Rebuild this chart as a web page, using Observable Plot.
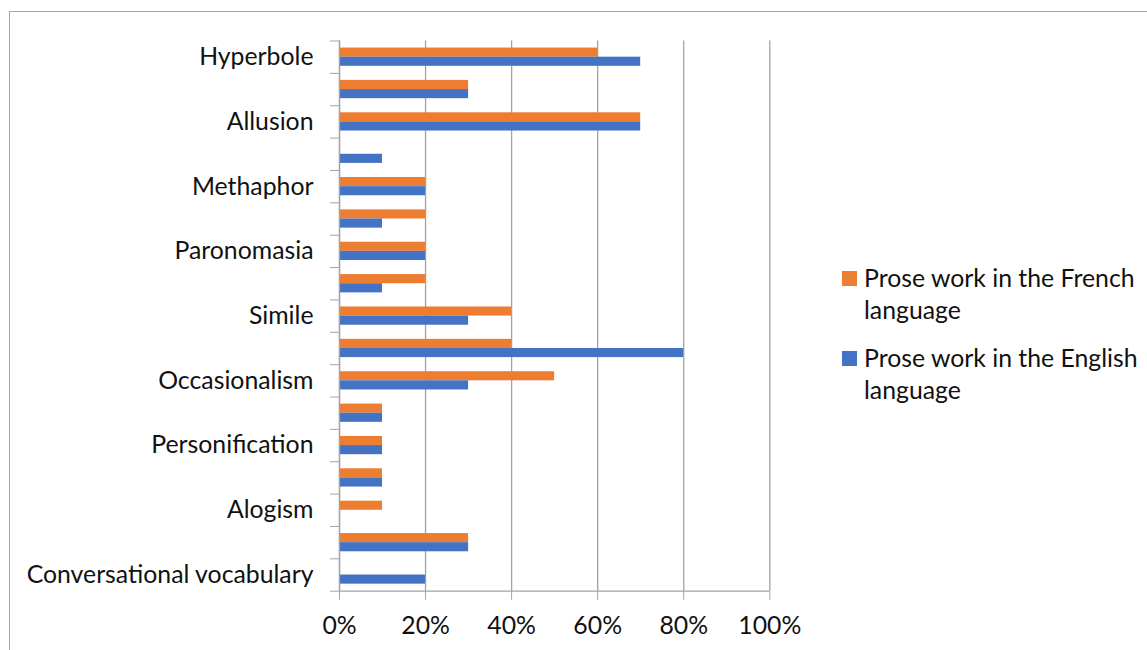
<!DOCTYPE html>
<html>
<head>
<meta charset="utf-8">
<script src="https://cdn.jsdelivr.net/npm/d3@7"></script>
<script src="https://cdn.jsdelivr.net/npm/@observablehq/plot@0.6"></script>
<style>
  html, body { margin: 0; padding: 0; background: #fff; }
  #chart { position: relative; width: 1147px; height: 650px; overflow: hidden; font-family: Lato, "Open Sans", sans-serif; color: #111; }
  #frame { position: absolute; left: 9px; top: 11px; right: -2px; bottom: -2px; border-left: 1px solid #a6a6a6; border-top: 1px solid #a6a6a6; }
  #plot { position: absolute; left: 0; top: 0; }
  #legend { position: absolute; left: 842px; top: 262px; font-size: 24.8px; line-height: 32px; }
  .item { position: relative; padding-left: 22px; white-space: nowrap; margin-bottom: 16px; }
  .swatch { position: absolute; left: 0; top: 9px; width: 15px; height: 15px; }
</style>
</head>
<body>
<div id="chart">
  <div id="frame"></div>
  <div id="plot"></div>
  <div id="legend"></div>
</div>
<script>
// Stylistic devices, top to bottom; every other row has no printed label
const categories = [
  "Hyperbole", "", "Allusion", "", "Methaphor", "", "Paronomasia", "",
  "Simile", "", "Occasionalism", "", "Personification", "", "Alogism", "",
  "Conversational vocabulary"
];
// Share of occurrences, in percent
const french  = [60, 30, 70, 0, 20, 20, 20, 20, 40, 40, 50, 10, 10, 10, 10, 30, 0];
const english = [70, 30, 70, 10, 20, 10, 20, 10, 30, 80, 30, 10, 10, 10, 0, 30, 20];
const seriesNames = ["Prose work in the French language", "Prose work in the English language"];
const seriesColors = ["#ED7D31", "#4472C4"];
const xTicks = [0, 20, 40, 60, 80, 100];

const rows = categories.flatMap((name, i) => [
  {i, series: seriesNames[0], value: french[i]},
  {i, series: seriesNames[1], value: english[i]}
]);

// each category occupies one unit on y; the pair of bars sits in its middle
const barSize = 0.282;
const y1 = d => d.i + 0.5 - (d.series === seriesNames[0] ? barSize : 0);
const y2 = d => d.i + 0.5 + (d.series === seriesNames[1] ? barSize : 0);

const gray = "#a3a3a3";

const chart = Plot.plot({
  width: 1147,
  height: 650,
  marginLeft: 339,
  marginRight: 377.7,
  marginTop: 40.5,
  marginBottom: 59.3,
  style: {fontFamily: "Lato, 'Open Sans', sans-serif", fontSize: "24.8px", color: "#111", background: "transparent"},
  x: {domain: [0, 100]},
  y: {domain: [0, categories.length], reverse: true},
  color: {domain: seriesNames, range: seriesColors},
  marks: [
    Plot.gridX(xTicks, {stroke: gray, strokeOpacity: 1, strokeWidth: 1.3}),
    Plot.rect(rows, {x1: () => 0, x2: "value", y1, y2, fill: "series"}),
    Plot.ruleX([0], {stroke: gray, strokeWidth: 1.3}),
    Plot.ruleY([categories.length], {stroke: gray, strokeWidth: 1.3}),
    Plot.axisX({ticks: xTicks, tickFormat: d => d + "%", tickSize: 9, tickPadding: 16, stroke: gray, label: null}),
    Plot.axisY({ticks: d3.range(categories.length + 1), tickFormat: () => "", tickSize: 9, stroke: gray, label: null}),
    Plot.axisY({ticks: categories.map((_, i) => i + 0.5), tickFormat: t => categories[Math.floor(t)], tickSize: 0, tickPadding: 26, label: null})
  ]
});
document.getElementById("plot").appendChild(chart);

// Legend to the right of the plot, in the stacking order of the bars
const legend = d3.select("#legend");
seriesNames.forEach((name, k) => {
  const item = legend.append("div").attr("class", "item");
  item.append("span").attr("class", "swatch").style("background", seriesColors[k]);
  const words = name.split(" ");
  item.append("span").html(words.slice(0, -1).join(" ") + "<br>" + words[words.length - 1]);
});
</script>
</body>
</html>
